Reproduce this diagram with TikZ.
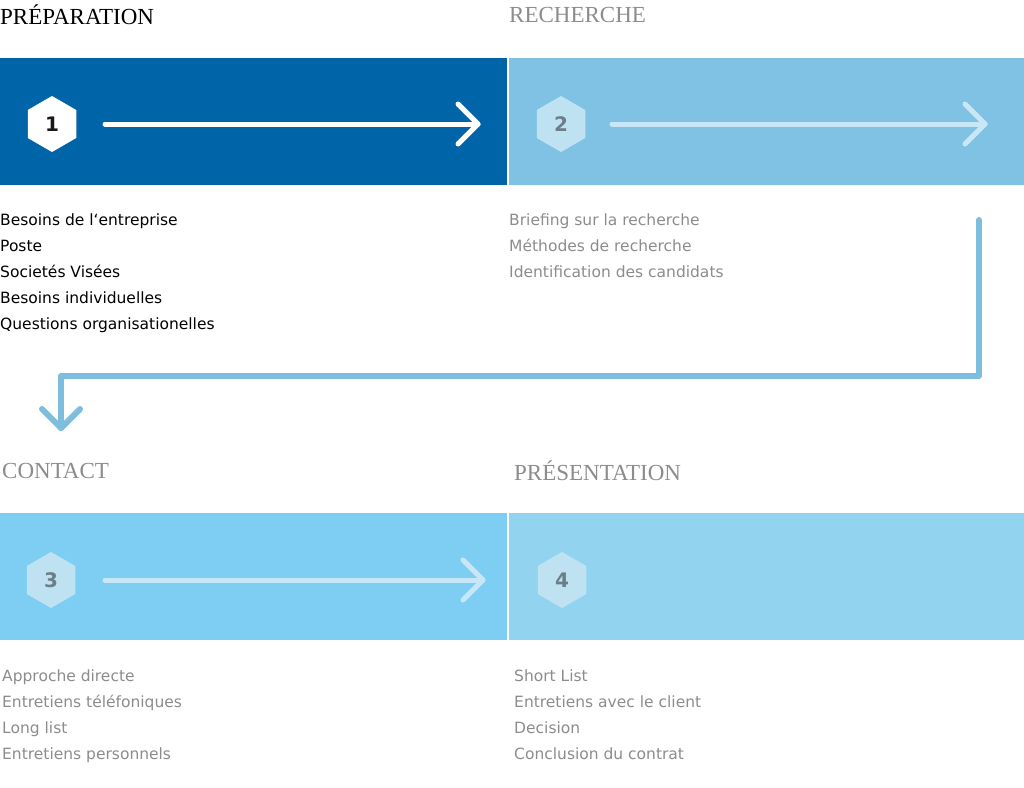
\documentclass[tikz,border=0pt]{standalone}
\usetikzlibrary{shapes.geometric}
\usepackage{fontspec}
\setmainfont{Liberation Serif}
\newfontfamily\listfont{DejaVu Sans}
\definecolor{dblue}{HTML}{0064A8}
\definecolor{mblue}{HTML}{80C2E3}
\definecolor{cblue}{HTML}{7ECEF4}
\definecolor{pblue}{HTML}{92D4F0}
\definecolor{hexl}{HTML}{BFE2F3}
\definecolor{arrl}{HTML}{C8E7F6}
\definecolor{hextxt}{HTML}{6B7F88}
\definecolor{gtxt}{HTML}{8C8C8C}
\definecolor{conn}{HTML}{7DBDDE}
\begin{document}
\begin{tikzpicture}[x=1pt,y=-1pt,
  title/.style={anchor=west,font=\fontsize{23}{23}\selectfont,inner sep=0pt},
  lst/.style={anchor=north west,font=\listfont\fontsize{15.5}{26}\selectfont,align=left,inner sep=0pt},
  hexa/.style={regular polygon,regular polygon sides=6,shape border rotate=30,minimum size=56pt,inner sep=0pt,font=\listfont\bfseries\fontsize{20}{20}\selectfont},
  flow/.style={line width=5pt,line cap=round,line join=round}]
\useasboundingbox (0,0) rectangle (1024,787);
\fill[dblue] (0,58) rectangle (507,185);
\fill[mblue] (509,58) rectangle (1024,185);
\fill[cblue] (0,513) rectangle (507,640);
\fill[pblue] (509,513) rectangle (1024,640);
\node[title,text=black] (t1) at (0,15) {PRÉPARATION};
\node[title,text=gtxt] (t2) at (509,15) {RECHERCHE};
\node[title,text=gtxt] (t3) at (2,471) {CONTACT};
\node[title,text=gtxt] (t4) at (514,471) {PRÉSENTATION};
\node[hexa,fill=white,text=black!90] (h1) at (52,124) {1};
\node[hexa,fill=hexl,text=hextxt] (h2) at (561,124) {2};
\node[hexa,fill=hexl,text=hextxt] (h3) at (51,580) {3};
\node[hexa,fill=hexl,text=hextxt] (h4) at (562,580) {4};
\coordinate (e1) at (478,124); \coordinate (e2) at (985,124); \coordinate (e3) at (483,580);
\draw[flow,white] (105,124) -- (e1); \draw[flow,white] (458,104) -- (e1) -- (458,144);
\draw[flow,arrl] (612,124) -- (e2); \draw[flow,arrl] (965,104) -- (e2) -- (965,144);
\draw[flow,arrl] (105,580) -- (e3); \draw[flow,arrl] (463,560) -- (e3) -- (463,600);
\node[lst,text=black] (l1) at (0,214) {Besoins de l‘entreprise\\Poste\\Societés Visées\\Besoins individuelles\\Questions organisationelles};
\node[lst,text=gtxt] (l2) at (509,214) {Briefing sur la recherche\\Méthodes de recherche\\Identification des candidats};
\node[lst,text=gtxt] (l3) at (2,670) {Approche directe\\Entretiens téléfoniques\\Long list\\Entretiens personnels};
\node[lst,text=gtxt] (l4) at (514,670) {Short List\\Entretiens avec le client\\Decision\\Conclusion du contrat};
\coordinate (c0) at (979,220); \coordinate (c1) at (61,428);
\draw[flow,conn,line width=6pt] (c0) -- (979,376) -- (61,376) -- (c1);
\draw[flow,conn,line width=6pt] (42,409) -- (c1) -- (80,409);
\end{tikzpicture}
\end{document}
